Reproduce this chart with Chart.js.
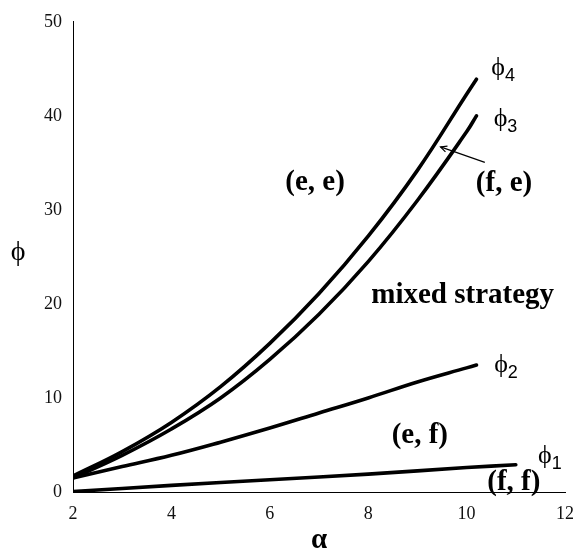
<!DOCTYPE html>
<html>
<head>
<meta charset="utf-8">
<script src="https://cdn.jsdelivr.net/npm/chart.js@4/dist/chart.umd.min.js"></script>
<style>
  html, body { margin: 0; padding: 0; background: #fff; }
  #wrap { width: 585px; height: 558px; position: relative; }
</style>
</head>
<body>
<div id="wrap"><canvas id="c" width="585" height="558"></canvas></div>
<script>
// ---- data ----
const alphaUpper = [2, 3, 4, 5, 6, 7, 8, 9, 10, 10.2];
const phi4 = [1.7, 4.3, 7.4, 11.2, 15.8, 21.1, 27.2, 34.2, 42.3, 43.9];
const phi3 = [1.5, 3.9, 6.7, 10.0, 14.1, 18.9, 24.5, 31.0, 38.3, 40.0];
const phi2 = [1.5, 2.7, 3.9, 5.3, 6.8, 8.4, 10.0, 11.7, 13.2, 13.5];
const alphaLow = [2, 4, 6, 8, 10, 11];
const phi1 = [0.05, 0.7, 1.3, 1.9, 2.6, 2.9];

const xTicks = [2, 4, 6, 8, 10, 12];
const yTicks = [0, 10, 20, 30, 40, 50];

const seriesNames = ['ϕ4', 'ϕ3', 'ϕ2', 'ϕ1'];
const regionLabels = ['(e, e)', '(f, e)', 'mixed strategy', '(e, f)', '(f, f)'];

// anchors (data coordinates) for text annotations
const regionAnchors = [[6.92, 32.9], [10.76, 32.8], [9.92, 20.9], [9.05, 6.0], [10.96, 1.05]];
const seriesLabelAnchors = [[10.5, 44.8], [10.55, 39.3], [10.56, 13.2], [11.45, 3.5]];
const arrowFromTo = [[10.37, 35.05], [9.47, 36.7]];

const FONT = '"Liberation Serif", "Times New Roman", serif';
const SANS = '"Liberation Sans", Arial, sans-serif';

function pts(xs, ys) { return xs.map((x, i) => ({ x: x, y: ys[i] })); }

const lineStyle = {
  borderColor: '#000',
  borderWidth: 3.6,
  pointRadius: 0,
  fill: false,
  tension: 0.4,
  borderCapStyle: 'round',
  borderJoinStyle: 'round'
};

const annotate = {
  id: 'annotate',
  afterDraw(chart) {
    const ctx = chart.ctx;
    const xs = chart.scales.x, ys = chart.scales.y;
    ctx.save();
    ctx.fillStyle = '#000';
    // region labels
    ctx.font = 'bold 29px ' + FONT;
    ctx.textAlign = 'center';
    ctx.textBaseline = 'middle';
    regionLabels.forEach((t, i) => {
      ctx.fillText(t, xs.getPixelForValue(regionAnchors[i][0]), ys.getPixelForValue(regionAnchors[i][1]));
    });
    // series labels phi with subscript
    seriesNames.forEach((t, i) => {
      const px = xs.getPixelForValue(seriesLabelAnchors[i][0]);
      const py = ys.getPixelForValue(seriesLabelAnchors[i][1]);
      ctx.textAlign = 'left';
      ctx.textBaseline = 'alphabetic';
      ctx.font = '26px ' + FONT;
      const w = ctx.measureText(t[0]).width;
      ctx.fillText(t[0], px, py + 4);
      ctx.font = '18px ' + SANS;
      ctx.fillText(t.slice(1), px + w, py + 10);
    });
    // arrow
    const x1 = xs.getPixelForValue(arrowFromTo[0][0]), y1 = ys.getPixelForValue(arrowFromTo[0][1]);
    const x2 = xs.getPixelForValue(arrowFromTo[1][0]), y2 = ys.getPixelForValue(arrowFromTo[1][1]);
    ctx.strokeStyle = '#000';
    ctx.lineWidth = 1.2;
    ctx.beginPath(); ctx.moveTo(x1, y1); ctx.lineTo(x2, y2); ctx.stroke();
    const ang = Math.atan2(y2 - y1, x2 - x1);
    const L = 7, a = 0.45;
    ctx.beginPath();
    ctx.moveTo(x2 - L * Math.cos(ang - a), y2 - L * Math.sin(ang - a));
    ctx.lineTo(x2, y2);
    ctx.lineTo(x2 - L * Math.cos(ang + a), y2 - L * Math.sin(ang + a));
    ctx.stroke();
    // y axis title (upright phi)
    ctx.font = '28px ' + FONT;
    ctx.textAlign = 'center';
    ctx.textBaseline = 'middle';
    ctx.fillText('ϕ', 18, (chart.chartArea.top + chart.chartArea.bottom) / 2 - 4);
    ctx.restore();
  }
};

new Chart(document.getElementById('c'), {
  type: 'line',
  data: {
    datasets: [
      Object.assign({ label: seriesNames[0], data: pts(alphaUpper, phi4) }, lineStyle),
      Object.assign({ label: seriesNames[1], data: pts(alphaUpper, phi3) }, lineStyle),
      Object.assign({ label: seriesNames[2], data: pts(alphaUpper, phi2) }, lineStyle),
      Object.assign({ label: seriesNames[3], data: pts(alphaLow, phi1) }, lineStyle)
    ]
  },
  options: {
    responsive: false,
    animation: false,
    devicePixelRatio: 1,
    layout: { padding: { left: 0, right: 10, top: 15, bottom: 0 } },
    plugins: { legend: { display: false }, tooltip: { enabled: false } },
    scales: {
      x: {
        type: 'linear',
        min: 2, max: 12,
        afterBuildTicks: (s) => { s.ticks = xTicks.map(v => ({ value: v })); },
        afterFit: (s) => { s.height = 66; },
        grid: { display: false, drawTicks: false },
        border: { display: true, color: '#000', width: 1 },
        ticks: { color: '#111', padding: 11, font: { family: FONT, size: 18 } },
        title: { display: true, text: 'α', color: '#000', padding: { top: 0, bottom: 0 }, font: { family: FONT, size: 29, weight: 'bold' } }
      },
      y: {
        type: 'linear',
        min: 0, max: 50,
        afterBuildTicks: (s) => { s.ticks = yTicks.map(v => ({ value: v })); },
        afterFit: (s) => { s.width = 73; },
        grid: { display: false, drawTicks: false },
        border: { display: true, color: '#000', width: 1 },
        ticks: { color: '#111', padding: 11, font: { family: FONT, size: 18 } }
      }
    }
  },
  plugins: [annotate]
});
</script>
</body>
</html>
